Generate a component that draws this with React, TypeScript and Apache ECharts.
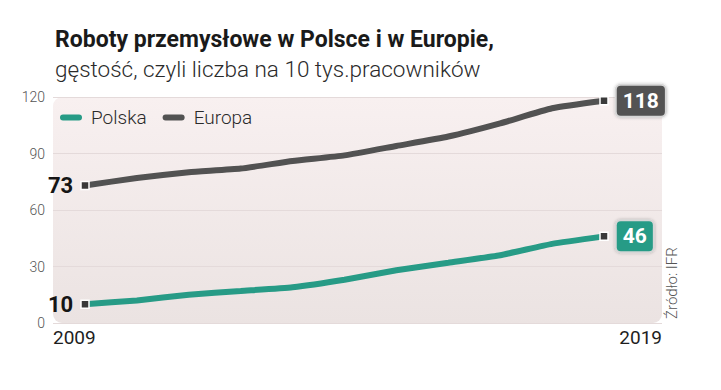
import React, { useEffect, useRef } from "react";
import * as echarts from "echarts";

const years = [2009, 2010, 2011, 2012, 2013, 2014, 2015, 2016, 2017, 2018, 2019];
const polska = [10, 12, 15, 17, 19, 23, 28, 32, 36, 42, 46];
const europa = [73, 77, 80, 82, 86, 89, 94, 99, 106, 114, 118];
const yTicks = [0, 30, 60, 90, 120];
const xLabels = ["2009", "2019"];
const seriesNames = ["Polska", "Europa"];
const titleText = "Roboty przemysłowe w Polsce i w Europie,";
const subtitleText = "gęstość, czyli liczba na 10 tys.pracowników";
const sourceText = "Źródło: IFR";

const TEAL = "#279b86";
const GREY = "#525252";
const FONT = "Roboto, 'Noto Sans', sans-serif";

const G_LEFT = 53;
const G_TOP = 97;
const G_W = 609;
const G_H = 226;

function buildData(vals: number[], color: string) {
  const last = vals.length - 1;
  return vals.map((v, i) => {
    const item: any = { value: [years[i], v], symbol: "none" };
    if (i === 0) {
      item.symbol = "rect";
      item.itemStyle = { color: "#3a3a3a", borderColor: "#ffffff", borderWidth: 1.5 };
      item.label = {
        show: true,
        position: "left",
        distance: 7,
        formatter: (p: any) => String(p.value[1]),
        color: "#151515",
        fontFamily: FONT,
        fontWeight: "bold",
        fontSize: 22,
      };
    } else if (i === last) {
      item.symbol = "rect";
      item.itemStyle = { color: "#3a3a3a", borderColor: "#ffffff", borderWidth: 1.5 };
      item.label = {
        show: true,
        position: "right",
        distance: 8,
        formatter: (p: any) => String(p.value[1]),
        color: "#ffffff",
        fontFamily: FONT,
        fontWeight: "bold",
        fontSize: 21,
        lineHeight: 22,
        backgroundColor: color,
        borderColor: "#d6d6d6",
        borderWidth: 2,
        borderRadius: 4,
        padding: [4, 6, 4, 6],
        shadowBlur: 3,
        shadowColor: "rgba(0,0,0,0.25)",
      };
    }
    return item;
  });
}

export default function App() {
  const ref = useRef<HTMLDivElement>(null);
  useEffect(() => {
    if (!ref.current) return;
    const chart = echarts.init(ref.current, undefined, { renderer: "svg" });
    const pxPerYear = (604 - 85) / (years[years.length - 1] - years[0]);
    const xMin = years[0] - (85 - G_LEFT) / pxPerYear;
    const xMax = years[years.length - 1] + (G_LEFT + G_W - 604) / pxPerYear;
    const legendIcon = "path://M3,0 H19 A3,3 0 0 1 19,6 H3 A3,3 0 0 1 3,0 Z";
    chart.setOption({
      animation: false,
      title: {
        text: titleText,
        subtext: subtitleText,
        left: 55,
        top: 26,
        padding: 0,
        itemGap: 3,
        textStyle: { fontFamily: FONT, fontWeight: "bold", fontSize: 23, color: "#1a1a1a", lineHeight: 27 },
        subtextStyle: { fontFamily: FONT, fontWeight: 300, fontSize: 22.5, color: "#2a2a2a", lineHeight: 26 },
      },
      legend: {
        left: 60,
        top: 108,
        padding: 0,
        itemWidth: 22,
        itemHeight: 6,
        itemGap: 16,
        icon: legendIcon,
        data: seriesNames,
        textStyle: { fontFamily: FONT, fontWeight: 300, fontSize: 19, color: "#2a2a2a", padding: [0, 0, 0, 4] },
      },
      grid: { left: G_LEFT, top: G_TOP, width: G_W, height: G_H, containLabel: false },
      xAxis: {
        type: "value",
        min: xMin,
        max: xMax,
        axisLine: { show: false },
        axisTick: { show: false },
        axisLabel: { show: false },
        splitLine: { show: false },
      },
      yAxis: {
        type: "value",
        min: yTicks[0],
        max: yTicks[yTicks.length - 1],
        interval: yTicks[1] - yTicks[0],
        axisLine: { show: false },
        axisTick: { show: false },
        axisLabel: { fontFamily: FONT, fontWeight: 300, fontSize: 14, color: "#555555", margin: 8 },
        splitLine: { lineStyle: { color: "#e4dada", width: 1 } },
      },
      graphic: [
        {
          type: "rect",
          z: -10,
          silent: true,
          shape: { x: G_LEFT, y: G_TOP, width: G_W, height: G_H, r: 9 },
          style: {
            fill: new echarts.graphic.LinearGradient(0, 0, 0, 1, [
              { offset: 0, color: "#f8f0f0" },
              { offset: 1, color: "#ebe3e2" },
            ]),
          },
        },
        {
          type: "text",
          left: G_LEFT,
          top: 328,
          style: { text: xLabels[0], fontFamily: FONT, fontSize: 19, fill: "#1e1e1e" },
        },
        {
          type: "text",
          right: 721 - (G_LEFT + G_W),
          top: 328,
          style: { text: xLabels[1], fontFamily: FONT, fontSize: 19, fill: "#1e1e1e" },
        },
        {
          type: "text",
          x: 664,
          y: 319,
          rotation: Math.PI / 2,
          style: {
            text: sourceText,
            fontFamily: FONT,
            fontWeight: 300,
            fontSize: 15,
            fill: "#555555",
            align: "left",
            verticalAlign: "top",
          },
        },
      ],
      series: [
        {
          name: seriesNames[0],
          type: "line",
          color: TEAL,
          smooth: 0.15,
          showAllSymbol: true,
          symbolSize: 8,
          lineStyle: { width: 6, color: TEAL, cap: "round" },
          data: buildData(polska, TEAL),
          z: 3,
        },
        {
          name: seriesNames[1],
          type: "line",
          color: GREY,
          smooth: 0.15,
          showAllSymbol: true,
          symbolSize: 8,
          lineStyle: { width: 6, color: GREY, cap: "round" },
          data: buildData(europa, GREY),
          z: 3,
        },
      ],
    });
    return () => chart.dispose();
  }, []);
  return (
    <div
      ref={ref}
      style={{ position: "fixed", left: 0, top: 0, width: 721, height: 390, background: "#ffffff" }}
    />
  );
}
